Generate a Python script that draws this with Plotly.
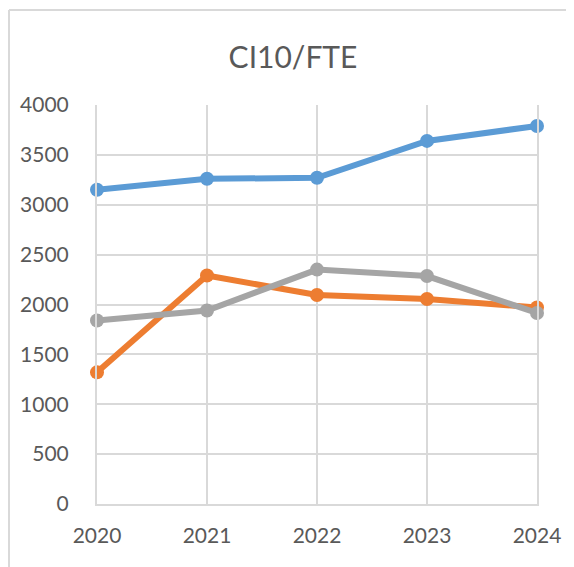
import plotly.graph_objects as go

years = [2020, 2021, 2022, 2023, 2024]
series_blue = [3150, 3260, 3270, 3640, 3790]
series_orange = [1320, 2290, 2095, 2055, 1970]
series_gray = [1840, 1940, 2350, 2285, 1915]
y_ticks = [0, 500, 1000, 1500, 2000, 2500, 3000, 3500, 4000]

colors = ["#5B9BD5", "#ED7D31", "#A5A5A5"]
FONT = "Lato"
OFF = 8  # default page body margin

W, H = 574, 567
L, R, T, B = 97 - OFF, W - (537 - OFF), 105 - OFF, H - (504 - OFF)

fig = go.Figure()
for vals, c in zip([series_blue, series_orange, series_gray], colors):
    fig.add_trace(go.Scatter(
        x=years, y=vals, mode="lines+markers",
        line=dict(color=c, width=6),
        marker=dict(color=c, size=14),
        showlegend=False, cliponaxis=False,
    ))

fig.update_layout(
    width=W, height=H,
    margin=dict(l=L, r=R, t=T, b=B),
    paper_bgcolor="white", plot_bgcolor="white",
    title=dict(text="CI10/FTE", x=(293 - OFF) / W, xref="container", xanchor="center",
               y=1 - (57 - OFF) / H, yanchor="middle",
               font=dict(family=FONT, size=30, color="#595959")),
    font=dict(family=FONT, color="#595959"),
)
fig.update_xaxes(
    range=[2020, 2024], tickvals=years, ticktext=[str(y) for y in years],
    showgrid=True, gridcolor="#D9D9D9", gridwidth=2,
    showline=True, linecolor="#D9D9D9", linewidth=2,
    zeroline=False, ticks="", ticklabelstandoff=12,
    tickfont=dict(family=FONT, size=21, color="#595959"),
)
fig.update_yaxes(
    range=[0, 4000], tickvals=y_ticks,
    showgrid=True, gridcolor="#D9D9D9", gridwidth=2,
    showline=True, mirror=True, linecolor="#D9D9D9", linewidth=2,
    zeroline=False, ticks="", ticklabelstandoff=22,
    tickfont=dict(family=FONT, size=21, color="#595959"),
)

# outer chart border (top and left edges visible)
pw, ph = W - L - R, H - T - B
x0 = (1 - L) / pw
ytop = 1 + (T - (10 - OFF)) / ph
fig.add_shape(type="line", xref="paper", yref="paper", x0=x0, x1=2, y0=ytop, y1=ytop,
              line=dict(color="#D9D9D9", width=2))
fig.add_shape(type="line", xref="paper", yref="paper", x0=x0, x1=x0, y0=-1, y1=ytop,
              line=dict(color="#D9D9D9", width=2))

fig.write_html("out.html")
